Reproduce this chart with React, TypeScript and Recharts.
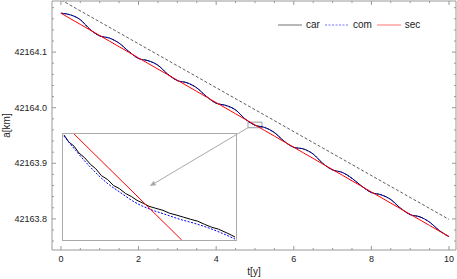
import React from "react";
import {
  LineChart,
  Line,
  XAxis,
  YAxis,
  ReferenceArea,
  ReferenceLine,
  Legend,
} from "recharts";

// main panel, sampled every quarter year
const years = [
  0, 0.25, 0.5, 0.75, 1, 1.25, 1.5, 1.75, 2, 2.25, 2.5, 2.75, 3, 3.25, 3.5,
  3.75, 4, 4.25, 4.5, 4.75, 5, 5.25, 5.5, 5.75, 6, 6.25, 6.5, 6.75, 7, 7.25,
  7.5, 7.75, 8, 8.25, 8.5, 8.75, 9, 9.25, 9.5, 9.75, 10,
];
const carKm = [
  42164.17, 42164.167, 42164.1584, 42164.1409, 42164.1293, 42164.1253,
  42164.1162, 42164.1012, 42164.0886, 42164.0846, 42164.0765, 42164.0605,
  42164.0489, 42164.0449, 42164.0358, 42164.0203, 42164.0082, 42164.0042,
  42163.9961, 42163.9796, 42163.9685, 42163.9645, 42163.9554, 42163.9399,
  42163.9288, 42163.9258, 42163.9167, 42163.8997, 42163.8881, 42163.8836,
  42163.873, 42163.859, 42163.8474, 42163.8434, 42163.8348, 42163.8193,
  42163.8077, 42163.8037, 42163.7941, 42163.7791, 42163.768,
];
const comKm = [
  42164.17, 42164.1668, 42164.1582, 42164.1407, 42164.1291, 42164.1251,
  42164.116, 42164.101, 42164.0884, 42164.0844, 42164.0763, 42164.0603,
  42164.0487, 42164.0447, 42164.0356, 42164.0201, 42164.008, 42164.004,
  42163.9959, 42163.9794, 42163.9683, 42163.9643, 42163.9552, 42163.9397,
  42163.9286, 42163.9256, 42163.9165, 42163.8995, 42163.8879, 42163.8834,
  42163.8728, 42163.8588, 42163.8472, 42163.8432, 42163.8346, 42163.8191,
  42163.8075, 42163.8035, 42163.7939, 42163.7789, 42163.7679,
];
const secKm = [
  42164.17, 42164.16, 42164.1499, 42164.1399, 42164.1298, 42164.1198,
  42164.1097, 42164.0997, 42164.0896, 42164.0796, 42164.0695, 42164.0595,
  42164.0494, 42164.0394, 42164.0293, 42164.0193, 42164.0092, 42163.9992,
  42163.9891, 42163.9791, 42163.969, 42163.959, 42163.9489, 42163.9389,
  42163.9288, 42163.9188, 42163.9087, 42163.8987, 42163.8886, 42163.8786,
  42163.8685, 42163.8585, 42163.8484, 42163.8384, 42163.8283, 42163.8183,
  42163.8082, 42163.7982, 42163.7881, 42163.7781, 42163.768,
];
const trendYears = [0, 10];
const trendKm = [42164.194, 42163.799];

const xTicks = [
  0, 0.5, 1, 1.5, 2, 2.5, 3, 3.5, 4, 4.5, 5, 5.5, 6, 6.5, 7, 7.5, 8, 8.5, 9,
  9.5, 10,
];
const yTicks = [
  42163.76, 42163.78, 42163.8, 42163.82, 42163.84, 42163.86, 42163.88,
  42163.9, 42163.92, 42163.94, 42163.96, 42163.98, 42164.0, 42164.02,
  42164.04, 42164.06, 42164.08, 42164.1, 42164.12, 42164.14, 42164.16,
  42164.18,
];

// inset: zoom on the little box around t = 5
const zoomYears = [4.82, 5.18];
const zoomKm = [42163.964, 42163.974];
const arrowYears = [4.82, 2.29];
const arrowKm = [42163.964, 42163.859];

const insetCarYears = [
  4.822, 4.832, 4.843, 4.853, 4.865, 4.878, 4.888, 4.9, 4.913, 4.925, 4.937,
  4.95, 4.962, 4.974, 4.987, 4.999, 5.013, 5.028, 5.042, 5.057, 5.071, 5.085,
  5.1, 5.114, 5.129, 5.143, 5.157, 5.17, 5.178,
];
const insetCarKm = [
  42163.97391, 42163.97325, 42163.97285, 42163.97222, 42163.97176,
  42163.9711, 42163.97073, 42163.97007, 42163.9697, 42163.96914, 42163.96886,
  42163.96839, 42163.96811, 42163.96774, 42163.96746, 42163.96718,
  42163.96699, 42163.9668, 42163.96652, 42163.96634, 42163.96615,
  42163.96596, 42163.96578, 42163.96549, 42163.96521, 42163.96503,
  42163.96475, 42163.96447, 42163.96428,
];
const insetComYears = [
  4.822, 4.847, 4.878, 4.908, 4.939, 4.97, 5.001, 5.032, 5.063, 5.092, 5.124,
  5.155, 5.178,
];
const insetComKm = [
  42163.97381, 42163.97241, 42163.97082, 42163.96951, 42163.96849,
  42163.96755, 42163.9669, 42163.96643, 42163.96596, 42163.96559,
  42163.96512, 42163.96456, 42163.96409,
];
const insetSecYears = [4.843, 5.067];
const insetSecKm = [42163.974, 42163.964];

const seriesNames = ["car", "com", "sec"];
const seriesColors = ["#000000", "#0000ff", "#ff0000"];
const seriesDash = ["", "2 1.5", ""];

const font = "'Liberation Sans', Arial, sans-serif";
const ink = "#222";
const frame = "#999";

const table = years.map((t, i) => ({
  t,
  car: carKm[i],
  com: comKm[i],
  sec: secKm[i],
}));
const trend = trendYears.map((t, i) => ({ t, v: trendKm[i] }));
const insetCar = insetCarYears.map((t, i) => ({ t, v: insetCarKm[i] }));
const insetCom = insetComYears.map((t, i) => ({ t, v: insetComKm[i] }));
const insetSec = insetSecYears.map((t, i) => ({ t, v: insetSecKm[i] }));

const majorY = (v: number) => Math.abs(v * 10 - Math.round(v * 10)) < 1e-6;
const majorX = (v: number) => v % 2 === 0;

const LeftTick = (props: any) => {
  const { x, y, payload } = props;
  const big = majorY(payload.value);
  return (
    <g>
      <line x1={x} x2={x + (big ? 4 : 2)} y1={y} y2={y} stroke={frame} />
      {big && (
        <text x={x - 5} y={y} dy={3} textAnchor="end" fontSize={9} fill={ink} fontFamily={font}>
          {payload.value.toFixed(1)}
        </text>
      )}
    </g>
  );
};
const RightTick = (props: any) => {
  const { x, y, payload } = props;
  const big = majorY(payload.value);
  return <line x1={x} x2={x - (big ? 4 : 2)} y1={y} y2={y} stroke={frame} />;
};
const BottomTick = (props: any) => {
  const { x, y, payload } = props;
  const big = majorX(payload.value);
  return (
    <g>
      <line x1={x} x2={x} y1={y} y2={y - (big ? 4 : 2)} stroke={frame} />
      {big && (
        <text x={x} y={y + 12} textAnchor="middle" fontSize={9} fill={ink} fontFamily={font}>
          {payload.value}
        </text>
      )}
    </g>
  );
};
const TopTick = (props: any) => {
  const { x, y, payload } = props;
  const big = majorX(payload.value);
  return <line x1={x} x2={x} y1={y} y2={y + (big ? 4 : 2)} stroke={frame} />;
};

const Arrow = (props: any) => {
  const { x1, y1, x2, y2 } = props;
  const ang = Math.atan2(y2 - y1, x2 - x1);
  const len = 6;
  const w = 2.5;
  const bx = x2 - len * Math.cos(ang);
  const by = y2 - len * Math.sin(ang);
  const px = -Math.sin(ang) * w;
  const py = Math.cos(ang) * w;
  return (
    <g>
      <line x1={x1} y1={y1} x2={bx} y2={by} stroke="#aaa" strokeWidth={1} />
      <polygon
        points={`${x2},${y2} ${bx + px},${by + py} ${bx - px},${by - py}`}
        fill="#aaa"
      />
    </g>
  );
};

const LegendBox = () => (
  <div style={{ display: "flex", alignItems: "center", fontFamily: font, fontSize: 10, color: ink }}>
    {seriesNames.map((n, i) => (
      <div key={n} style={{ display: "flex", alignItems: "center", marginRight: 5 }}>
        <svg width={24} height={6} style={{ marginRight: 4 }}>
          <line
            x1={0}
            x2={24}
            y1={3}
            y2={3}
            stroke={seriesColors[i]}
            strokeOpacity={0.55}
            strokeDasharray={seriesDash[i] || undefined}
          />
        </svg>
        <span>{n}</span>
      </div>
    ))}
  </div>
);

export default function App() {
  return (
    <div style={{ position: "absolute", left: 0, top: 0, width: 457, height: 279 }}>
      <div
        style={{
          position: "absolute",
          left: 62,
          top: 133,
          width: 175,
          height: 108,
          boxSizing: "border-box",
          border: "1px solid #aaa",
          background: "#fff",
        }}
      >
        <LineChart width={173} height={106} margin={{ top: 0, right: 0, left: 0, bottom: 0 }}>
          <XAxis dataKey="t" type="number" domain={[4.82, 5.18]} hide allowDataOverflow />
          <YAxis type="number" domain={[42163.964, 42163.974]} hide allowDataOverflow />
          <Line data={insetCar} dataKey="v" type="linear" stroke="#000" strokeWidth={1} dot={false} activeDot={false} isAnimationActive={false} />
          <Line data={insetCom} dataKey="v" type="monotone" stroke="#0000ff" strokeWidth={1} strokeDasharray="2 1.5" dot={false} activeDot={false} isAnimationActive={false} />
          <Line data={insetSec} dataKey="v" type="linear" stroke="#ff0000" strokeWidth={1} dot={false} activeDot={false} isAnimationActive={false} />
        </LineChart>
      </div>
      <div style={{ position: "absolute", left: 0, top: 0 }}>
        <LineChart width={457} height={279} data={table} margin={{ top: 0, right: 0, left: 0, bottom: 0 }}>
          <XAxis
            xAxisId="b"
            dataKey="t"
            type="number"
            domain={[-0.23, 10.18]}
            ticks={xTicks}
            interval={0}
            height={29}
            tickSize={0}
            tickMargin={0}
            tickLine={false}
            tick={<BottomTick />}
            stroke={frame}
            allowDataOverflow
            label={{
              position: "insideBottom",
              content: (p: any) => (
                <text
                  x={p.viewBox.x + p.viewBox.width / 2}
                  y={p.viewBox.y + 25}
                  textAnchor="middle"
                  fontSize={10}
                  fill={ink}
                  fontFamily={font}
                >
                  t[y]
                </text>
              ),
            }}
          />
          <XAxis
            xAxisId="top"
            orientation="top"
            dataKey="t"
            type="number"
            domain={[-0.23, 10.18]}
            ticks={xTicks}
            interval={0}
            height={1}
            tickSize={0}
            tickMargin={0}
            tickLine={false}
            tick={<TopTick />}
            stroke={frame}
            allowDataOverflow
          />
          <YAxis
            yAxisId="l"
            type="number"
            domain={[42163.744, 42164.192]}
            ticks={yTicks}
            interval={0}
            width={52}
            tickSize={0}
            tickMargin={0}
            tickLine={false}
            tick={<LeftTick />}
            stroke={frame}
            allowDataOverflow
            label={{
              position: "insideLeft",
              content: (p: any) => (
                <text
                  transform={`translate(${p.viewBox.x + 10},${p.viewBox.y + p.viewBox.height / 2}) rotate(-90)`}
                  textAnchor="middle"
                  fontSize={10}
                  fill={ink}
                  fontFamily={font}
                >
                  a[km]
                </text>
              ),
            }}
          />
          <YAxis
            yAxisId="r"
            orientation="right"
            type="number"
            domain={[42163.744, 42164.192]}
            ticks={yTicks}
            interval={0}
            width={1}
            tickSize={0}
            tickMargin={0}
            tickLine={false}
            tick={<RightTick />}
            stroke={frame}
            allowDataOverflow
          />
          <ReferenceArea
            xAxisId="b"
            yAxisId="l"
            x1={zoomYears[0]}
            x2={zoomYears[1]}
            y1={zoomKm[0]}
            y2={zoomKm[1]}
            fill="none"
            stroke="#999"
            strokeWidth={1}
          />
          <ReferenceLine
            xAxisId="b"
            yAxisId="l"
            segment={[
              { x: arrowYears[0], y: arrowKm[0] },
              { x: arrowYears[1], y: arrowKm[1] },
            ]}
            shape={(p: any) => <Arrow {...p} />}
          />
          <Line
            xAxisId="b"
            yAxisId="l"
            data={trend}
            dataKey="v"
            type="linear"
            stroke="#333"
            strokeWidth={0.8}
            strokeDasharray="3 2"
            dot={false}
            activeDot={false}
            isAnimationActive={false}
            legendType="none"
          />
          <Line xAxisId="b" yAxisId="l" dataKey="car" type="monotone" stroke={seriesColors[0]} strokeWidth={1} dot={false} activeDot={false} isAnimationActive={false} />
          <Line xAxisId="b" yAxisId="l" dataKey="com" type="monotone" stroke={seriesColors[1]} strokeWidth={1} strokeDasharray="2 1.5" dot={false} activeDot={false} isAnimationActive={false} />
          <Line xAxisId="b" yAxisId="l" dataKey="sec" type="monotone" stroke={seriesColors[2]} strokeWidth={1} dot={false} activeDot={false} isAnimationActive={false} />
          <Legend
            layout="vertical"
            align="center"
            verticalAlign="middle"
            content={() => <LegendBox />}
            wrapperStyle={{ position: "absolute", left: 278, top: 19, width: 170, right: "auto", bottom: "auto" }}
          />
        </LineChart>
      </div>
    </div>
  );
}
